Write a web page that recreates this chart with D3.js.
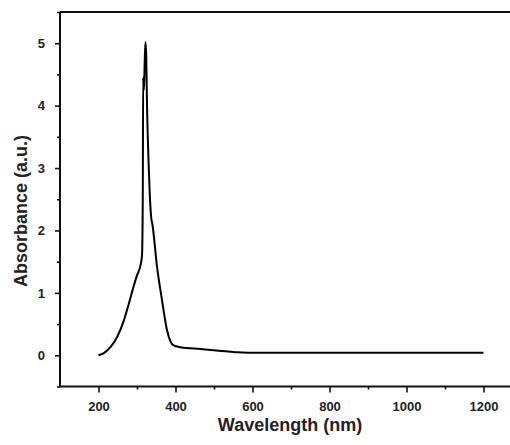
<!DOCTYPE html>
<html><head><meta charset="utf-8">
<script src="https://cdn.jsdelivr.net/npm/d3@7"></script>
<style>body{margin:0;background:#fff}svg{display:block}</style>
</head><body>
<svg id="c" width="510" height="445"></svg>
<script>
const wavelength = [200,215,231,248,266,279,292,300,309,313,315,316,317,318,320,322,324,326,328,330,333,337,340,352,365,378,387,395,413,465,556,595,800,1044,1200];
const absorbance = [0,0.04,0.13,0.29,0.56,0.83,1.12,1.28,1.44,1.6,2.5,4.45,4.3,4.25,4.7,5.02,4.8,4.0,3.5,3.1,2.6,2.2,2.1,1.42,0.88,0.4,0.22,0.16,0.13,0.1,0.05,0.04,0.04,0.04,0.04];
const xMajor = [200,400,600,800,1000,1200];
const xMinor = [300,500,700,900,1100];
const yMajor = [0,1,2,3,4,5];
const yMinor = [-0.5,0.5,1.5,2.5,3.5,4.5,5.5];

const svg = d3.select('#c');
const mLeft = 60, mTop = 12, mBottom = 386.5;
const x = d3.scaleLinear().domain([100,1300]).range([mLeft, mLeft + 462]);
const y = d3.scaleLinear().domain([-0.5,5.5]).range([mBottom, mTop]);
const font = '"Liberation Sans", Arial, sans-serif';

// x axis
const gx = svg.append('g').attr('transform', `translate(0,${mBottom})`);
gx.call(d3.axisBottom(x).tickValues(xMajor).tickSize(6).tickPadding(9).tickFormat(d3.format('d')));
gx.append('g').call(d3.axisBottom(x).tickValues(xMinor).tickSize(3).tickFormat(''));
// y axis
const gy = svg.append('g').attr('transform', `translate(${mLeft},0)`);
gy.call(d3.axisLeft(y).tickValues(yMajor).tickSize(5).tickPadding(10).tickFormat(d3.format('d')));
gy.append('g').call(d3.axisLeft(y).tickValues(yMinor).tickSize(3).tickFormat(''));
svg.selectAll('.domain').remove();
svg.selectAll('.tick line').attr('stroke', '#111').attr('stroke-width', 1.6);
svg.selectAll('.tick text').attr('font-family', font).attr('font-weight', 'bold').attr('font-size', 13).attr('fill', '#222');

// frame lines
svg.append('line').attr('x1', mLeft).attr('x2', 522).attr('y1', mBottom).attr('y2', mBottom).attr('stroke', '#111').attr('stroke-width', 2);
svg.append('line').attr('x1', mLeft).attr('x2', mLeft).attr('y1', mTop).attr('y2', mBottom).attr('stroke', '#111').attr('stroke-width', 2);
svg.append('line').attr('x1', mLeft).attr('x2', 522).attr('y1', mTop).attr('y2', mTop).attr('stroke', '#111').attr('stroke-width', 2);

// curve
const data = wavelength.map((w,i)=>[w, absorbance[i]]);
svg.append('path').datum(data)
  .attr('d', d3.line().x(d=>x(d[0])).y(d=>y(d[1])).curve(d3.curveMonotoneX))
  .attr('fill','none').attr('stroke','#000').attr('stroke-width',2).attr('stroke-linejoin','round');

// titles
svg.append('text').attr('x', 290).attr('y', 431).attr('text-anchor','middle')
  .attr('font-family', font).attr('font-weight','bold').attr('font-size',18).attr('fill','#222')
  .text('Wavelength (nm)');
svg.append('text').attr('transform','translate(27,211) rotate(-90)').attr('text-anchor','middle')
  .attr('font-family', font).attr('font-weight','bold').attr('font-size',18).attr('fill','#222')
  .text('Absorbance (a.u.)');
</script>
</body></html>
